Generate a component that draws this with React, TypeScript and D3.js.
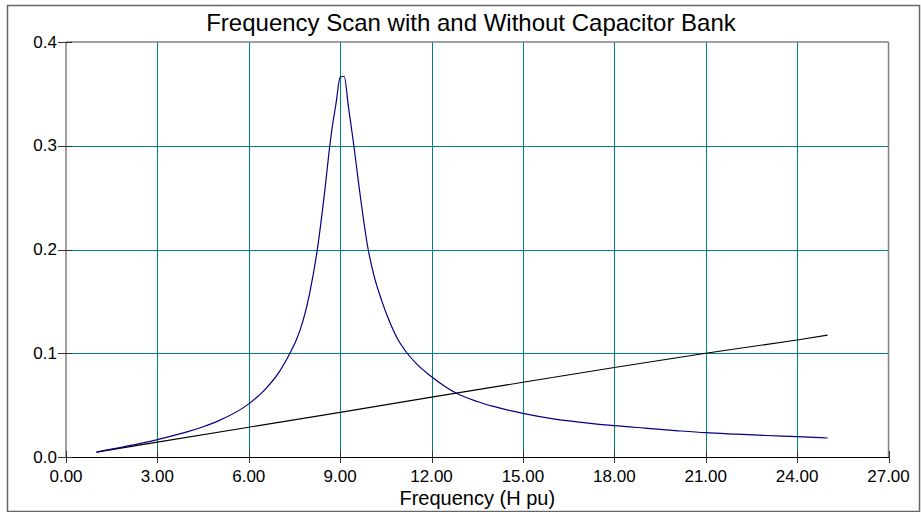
import React from "react";
import * as d3 from "d3";

const title = "Frequency Scan with and Without Capacitor Bank";
const xLabel = "Frequency (H pu)";
const xTicks = [0, 3, 6, 9, 12, 15, 18, 21, 24, 27];
const yTicks = [0.0, 0.1, 0.2, 0.3, 0.4];

// Without capacitor bank (black, nearly linear)
const hBlack = [1, 3, 6, 9, 12, 15, 18, 21, 24, 25];
const zBlack = [0.0047, 0.0143, 0.0287, 0.043, 0.0577, 0.072, 0.0862, 0.1, 0.1128, 0.1175];

// With capacitor bank (navy, parallel resonance near 9th)
const hBlue = [1, 2, 3, 4, 4.5, 5, 6, 6.5, 7, 7.35, 7.55, 7.68, 8.0, 8.25, 8.5, 8.66, 8.75, 8.86, 9.0, 9.13, 9.27, 9.45, 9.6, 9.92, 10.1, 10.36, 10.6, 10.9, 11.2, 11.5, 12, 12.82, 13.5, 14, 15, 16, 17, 18, 19, 20, 21, 22, 23, 24, 25];
const zBlue = [0.0047, 0.0104, 0.0168, 0.0244, 0.0292, 0.0348, 0.0512, 0.064, 0.082, 0.1, 0.112, 0.122, 0.158, 0.2, 0.258, 0.3, 0.32, 0.34, 0.366, 0.367, 0.338, 0.3, 0.265, 0.2, 0.176, 0.151, 0.132, 0.113, 0.1, 0.09, 0.0774, 0.0614, 0.0535, 0.049, 0.0421, 0.0368, 0.0332, 0.0302, 0.0278, 0.0255, 0.0234, 0.022, 0.0207, 0.0196, 0.0183];

const W = 921;
const H = 512;
const left = 66;
const right = 888.5;
const top = 42;
const bottom = 457;

export default function App() {
  const x = d3.scaleLinear().domain([0, 27]).range([left, right]);
  const y = d3.scaleLinear().domain([0, 0.4]).range([bottom, top]);
  const blackLine = d3
    .line<[number, number]>()
    .x((d) => x(d[0]))
    .y((d) => y(d[1]))
    .curve(d3.curveLinear);
  const blueLine = d3
    .line<[number, number]>()
    .x((d) => x(d[0]))
    .y((d) => y(d[1]))
    .curve(d3.curveMonotoneX);
  const blackPts = hBlack.map((h, i) => [h, zBlack[i]] as [number, number]);
  const bluePts = hBlue.map((h, i) => [h, zBlue[i]] as [number, number]);
  const font = "'Liberation Sans', Arial, sans-serif";
  const grid = "#008080";
  const px = (v: number) => Math.round(v) + 0.5;

  return (
    <svg
      width={W}
      height={H}
      style={{ position: "absolute", left: 0, top: 0, background: "#fff" }}
      fontFamily={font}
    >
      <rect x={7.5} y={5.5} width={912} height={506} fill="#fff" stroke="#666" strokeWidth={1.5} />
      <text x={471} y={31} textAnchor="middle" fontSize={24} fill="#000">
        {title}
      </text>
      {/* grid lines */}
      {xTicks.filter((t) => t > 0 && t < 27).map((t) => (
        <line key={"gx" + t} x1={px(x(t))} x2={px(x(t))} y1={top} y2={bottom} stroke={grid} strokeWidth={1} shapeRendering="crispEdges" />
      ))}
      {yTicks.filter((t) => t > 0 && t < 0.4).map((t) => (
        <line key={"gy" + t} x1={left} x2={right} y1={px(y(t))} y2={px(y(t))} stroke={grid} strokeWidth={1} shapeRendering="crispEdges" />
      ))}
      {/* frame */}
      <line x1={left} x2={right} y1={top} y2={top} stroke="#808080" strokeWidth={1.5} />
      <line x1={right} x2={right} y1={top} y2={bottom} stroke="#808080" strokeWidth={1.5} />
      <line x1={left} x2={left} y1={top} y2={bottom} stroke="#808080" strokeWidth={1.5} />
      <line x1={left} x2={right} y1={px(bottom)} y2={px(bottom)} stroke="#000" strokeWidth={1} shapeRendering="crispEdges" />
      {/* ticks */}
      {xTicks.map((t) => (
        <g key={"tx" + t}>
          <line x1={px(x(t))} x2={px(x(t))} y1={bottom - 6} y2={bottom + 6} stroke="#333" strokeWidth={1} shapeRendering="crispEdges" />
          <text x={x(t)} y={482} textAnchor="middle" fontSize={17} fill="#000">
            {t.toFixed(2)}
          </text>
        </g>
      ))}
      {yTicks.map((t) => (
        <g key={"ty" + t}>
          <line x1={left - 8} x2={left + 6} y1={px(y(t))} y2={px(y(t))} stroke="#333" strokeWidth={1} shapeRendering="crispEdges" />
          <text x={57} y={y(t) + 5.5} textAnchor="end" fontSize={17} fill="#000">
            {t.toFixed(1)}
          </text>
        </g>
      ))}
      {/* series */}
      <path d={blackLine(blackPts) || ""} fill="none" stroke="#000" strokeWidth={1.1} />
      <path d={blueLine(bluePts) || ""} fill="none" stroke="#000080" strokeWidth={1.2} />
      <text x={(left + right) / 2} y={505} textAnchor="middle" fontSize={20} fill="#000">
        {xLabel}
      </text>
    </svg>
  );
}
